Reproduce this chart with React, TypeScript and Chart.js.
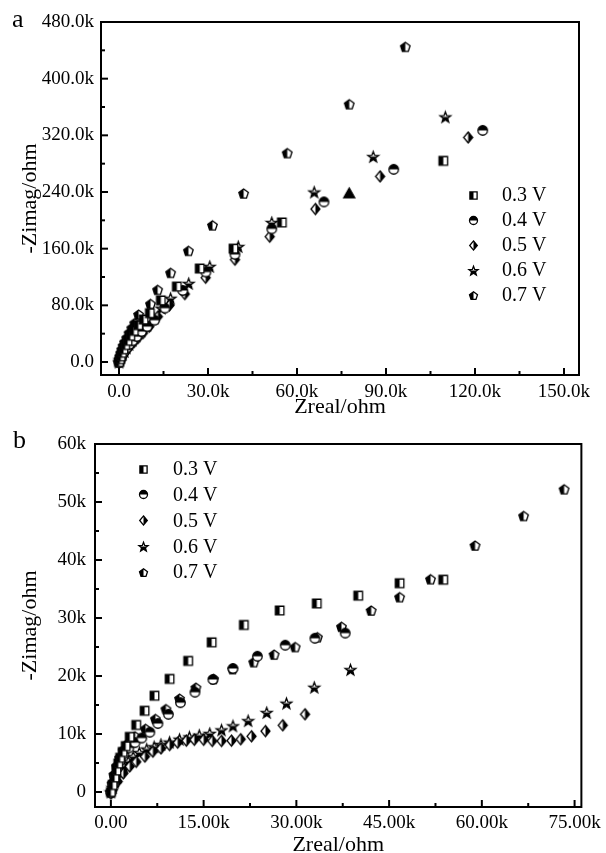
import React, { useEffect, useRef } from 'react';
import { Chart, registerables } from 'chart.js';

Chart.register(...registerables);

const FONT = "'Liberation Serif', 'Times New Roman', Times, serif";
const SERIES_LABELS = ['0.3 V', '0.4 V', '0.5 V', '0.6 V', '0.7 V'];

// ---------------- Panel a (values in kΩ) ----------------
const A_X_03 = [0, 0.3, 0.6, 1.0, 1.5, 2.1, 2.9, 3.8, 5.0, 6.5, 8.3, 10.4, 14.1, 19.5, 27.2, 38.6, 54.9, 109.3];
const A_Y_03 = [0, 4, 8, 13, 18, 24, 30, 37, 44, 52, 60, 69, 87, 106.5, 132, 160, 197, 284];
const A_X_04 = [0, 0.3, 0.7, 1.2, 1.8, 2.6, 3.5, 4.6, 6.0, 7.6, 9.5, 12.0, 15.5, 21.5, 29.3, 39.1, 51.5, 69.1, 92.6, 122.6];
const A_Y_04 = [0, 3, 7, 11, 15, 20, 25, 30, 36, 43, 50, 59, 76, 101, 127, 152, 188, 226, 272, 327];
const A_X_05 = [0, 0.4, 0.8, 1.3, 2.0, 2.8, 3.8, 5.0, 6.4, 8.1, 10.2, 13.1, 17.0, 22.2, 29.2, 39.1, 50.8, 66.2, 88.0, 117.7];
const A_Y_05 = [-1, 3, 6, 10, 14, 18, 23, 28, 34, 41, 50, 64, 80, 96, 119, 144.5, 177, 216, 262, 317];
const A_X_06 = [0, 0.3, 0.7, 1.2, 1.8, 2.5, 3.4, 4.5, 5.8, 7.4, 9.4, 11.8, 14.3, 17.4, 23.5, 30.6, 40.2, 51.5, 65.8, 85.7, 110.0];
const A_Y_06 = [0, 3, 7, 11, 15, 20, 25, 31, 37, 44, 52, 62, 76, 90, 111, 135, 163, 197, 240, 290, 346];
const A_X_07 = [0, 0.2, 0.4, 0.7, 1.0, 1.4, 1.9, 2.6, 3.4, 4.3, 5.3, 6.6, 10.6, 13.0, 17.4, 23.4, 31.5, 42.0, 56.7, 77.6, 96.5];
const A_Y_07 = [0, 4, 8, 13, 18, 23, 28, 34, 41, 48, 55, 67, 82, 102, 126, 157, 193, 238, 295, 364, 445];
const A_X_TRI = [77.6];
const A_Y_TRI = [238];

// ---------------- Panel b (values in kΩ) ----------------
const B_X_03 = [0, 0.3, 0.6, 0.9, 1.2, 1.5, 1.9, 2.4, 3.05, 4.1, 5.45, 7.05, 9.5, 12.5, 16.3, 21.5, 27.3, 33.3, 40.0, 46.7, 53.75];
const B_Y_03 = [0, 1.2, 2.5, 3.7, 4.9, 5.9, 6.9, 7.9, 9.5, 11.55, 14.0, 16.6, 19.5, 22.6, 25.8, 28.8, 31.3, 32.5, 33.85, 36.0, 36.6];
const B_X_04 = [0, 0.3, 0.6, 1.0, 1.5, 2.1, 2.9, 3.9, 5.0, 6.3, 7.6, 9.3, 11.25, 13.6, 16.5, 19.75, 23.7, 28.2, 33.0, 37.9];
const B_Y_04 = [0, 1.4, 2.8, 4.1, 5.4, 6.6, 7.6, 8.5, 9.3, 10.3, 11.8, 13.4, 15.4, 17.2, 19.4, 21.3, 23.4, 25.3, 26.5, 27.4];
const B_X_05 = [0, 0.3, 1.1, 2.0, 3.05, 4.1, 5.5, 6.8, 8.1, 9.5, 10.8, 12.2, 13.5, 15.0, 16.4, 17.9, 19.5, 21.0, 22.75, 25.0, 27.8, 31.4];
const B_Y_05 = [-0.3, 0.4, 1.8, 3.2, 4.4, 5.2, 6.1, 6.95, 7.5, 8.1, 8.5, 8.85, 9.0, 9.0, 8.8, 8.8, 8.85, 9.1, 9.6, 10.5, 11.5, 13.4];
const B_X_06 = [0, 0.3, 0.6, 1.0, 1.5, 2.1, 2.8, 3.6, 4.6, 5.8, 7.0, 8.1, 9.5, 11.1, 12.7, 14.3, 16.0, 17.9, 19.75, 22.2, 25.2, 28.4, 32.9, 38.75];
const B_Y_06 = [0, 0.8, 1.7, 2.6, 3.5, 4.4, 5.3, 6.1, 6.8, 7.4, 7.8, 8.2, 8.6, 9.1, 9.5, 9.8, 10.1, 10.7, 11.4, 12.3, 13.7, 15.3, 18.05, 21.1];
const B_X_07 = [0, 0.2, 0.5, 0.9, 1.4, 2.0, 2.8, 3.9, 5.6, 7.2, 8.9, 11.1, 13.75, 16.6, 19.7, 23.1, 26.4, 29.8, 33.4, 37.3, 42.1, 46.7, 51.7, 58.9, 66.75, 73.3];
const B_Y_07 = [0, 1.5, 3.0, 4.5, 5.9, 7.2, 8.4, 9.6, 10.9, 12.6, 14.3, 16.1, 18.0, 19.5, 21.2, 22.4, 23.7, 25.0, 26.7, 28.5, 31.3, 33.6, 36.7, 42.5, 47.6, 52.2];

type Kind = 'square' | 'circle' | 'diamond' | 'star' | 'pentagon' | 'triangle';
type Half = 'left' | 'right' | 'top' | 'bottom' | 'full';

const MARKERS: { kind: Kind; half: Half }[] = [
  { kind: 'square', half: 'left' },
  { kind: 'circle', half: 'top' },
  { kind: 'diamond', half: 'right' },
  { kind: 'star', half: 'bottom' },
  { kind: 'pentagon', half: 'left' },
];

function markerPath(kind: Kind, cx: number, cy: number, s: number): Path2D {
  const p = new Path2D();
  const r = s / 2;
  if (kind === 'square') {
    p.rect(cx - r * 0.9, cy - r * 0.9, r * 1.8, r * 1.8);
  } else if (kind === 'circle') {
    p.arc(cx, cy, r, 0, Math.PI * 2);
  } else if (kind === 'diamond') {
    p.moveTo(cx, cy - r * 1.15);
    p.lineTo(cx + r * 0.95, cy);
    p.lineTo(cx, cy + r * 1.15);
    p.lineTo(cx - r * 0.95, cy);
    p.closePath();
  } else if (kind === 'star') {
    for (let i = 0; i < 10; i++) {
      const ang = -Math.PI / 2 + (i * Math.PI) / 5;
      const rr = i % 2 === 0 ? r * 1.2 : r * 0.5;
      const x = cx + rr * Math.cos(ang);
      const y = cy + 0.6 + rr * Math.sin(ang);
      if (i === 0) p.moveTo(x, y); else p.lineTo(x, y);
    }
    p.closePath();
  } else if (kind === 'pentagon') {
    for (let i = 0; i < 5; i++) {
      const ang = -Math.PI / 2 + (i * 2 * Math.PI) / 5;
      const x = cx + r * 1.05 * Math.cos(ang);
      const y = cy + 0.5 + r * 1.05 * Math.sin(ang);
      if (i === 0) p.moveTo(x, y); else p.lineTo(x, y);
    }
    p.closePath();
  } else {
    p.moveTo(cx, cy - r * 1.1);
    p.lineTo(cx + r * 1.1, cy + r * 0.85);
    p.lineTo(cx - r * 1.1, cy + r * 0.85);
    p.closePath();
  }
  return p;
}

function makeMarker(kind: Kind, half: Half, s: number): HTMLCanvasElement {
  const size = Math.ceil(s + 5);
  const c = document.createElement('canvas');
  c.width = size;
  c.height = size;
  const ctx = c.getContext('2d')!;
  const cx = size / 2;
  const cy = size / 2;
  const path = markerPath(kind, cx, cy, s);
  ctx.fillStyle = '#fff';
  ctx.fill(path);
  ctx.save();
  ctx.clip(path);
  ctx.fillStyle = '#000';
  if (half === 'full') ctx.fillRect(0, 0, size, size);
  else if (half === 'left') ctx.fillRect(0, 0, cx, size);
  else if (half === 'right') ctx.fillRect(cx, 0, size, size);
  else if (half === 'top') ctx.fillRect(0, 0, size, cy);
  else ctx.fillRect(0, cy, size, size);
  ctx.restore();
  ctx.strokeStyle = '#000';
  ctx.lineWidth = 1.3;
  ctx.stroke(path);
  return c;
}

interface Panel {
  letter: string;
  letterPos: [number, number];
  xs: number[][];
  ys: number[][];
  extraX?: number[];
  extraY?: number[];
  xMin: number; xMax: number; xStep: number;
  yMin: number; yMax: number; yStep: number;
  xFmt: (v: number) => string;
  yFmt: (v: number) => string;
  padTop: number; padRight: number;
  yAxisWidth: number; xAxisHeight: number;
  yTickPad: number; xTickPad: number;
  xTitlePadBottom: number;
  legendX: number; legendY: number; legendDy: number; legendTextX: number;
}

const PANEL_A: Panel = {
  letter: 'a',
  letterPos: [12, 27],
  xs: [A_X_03, A_X_04, A_X_05, A_X_06, A_X_07],
  ys: [A_Y_03, A_Y_04, A_Y_05, A_Y_06, A_Y_07],
  extraX: A_X_TRI,
  extraY: A_Y_TRI,
  xMin: -6.07, xMax: 155.06, xStep: 30,
  yMin: -18.35, yMax: 480, yStep: 80,
  xFmt: (v) => (v === 0 ? '0.0' : v.toFixed(1) + 'k'),
  yFmt: (v) => (v === 0 ? '0.0' : v.toFixed(1) + 'k'),
  padTop: 22, padRight: 27,
  yAxisWidth: 101, xAxisHeight: 45,
  yTickPad: 7, xTickPad: 6,
  xTitlePadBottom: 0,
  legendX: 473, legendY: 195, legendDy: 25, legendTextX: 502,
};

const PANEL_B: Panel = {
  letter: 'b',
  letterPos: [13, 28],
  xs: [B_X_03, B_X_04, B_X_05, B_X_06, B_X_07],
  ys: [B_Y_03, B_Y_04, B_Y_05, B_Y_06, B_Y_07],
  xMin: -2.57, xMax: 76.1, xStep: 15,
  yMin: -2.59, yMax: 60, yStep: 10,
  xFmt: (v) => (v === 0 ? '0.00' : v.toFixed(2) + 'k'),
  yFmt: (v) => (v === 0 ? '0' : Math.round(v) + 'k'),
  padTop: 24, padRight: 21,
  yAxisWidth: 95, xAxisHeight: 53,
  yTickPad: 9, xTickPad: 5,
  xTitlePadBottom: 2,
  legendX: 143, legendY: 49, legendDy: 25.8, legendTextX: 173,
};

function buildChart(canvas: HTMLCanvasElement, p: Panel): Chart {
  const dataMarkers = MARKERS.map((m) => makeMarker(m.kind, m.half, 9.5));
  const legendMarkers = MARKERS.map((m) => makeMarker(m.kind, m.half, 8));
  const triMarker = makeMarker('triangle', 'full', 10);

  const datasets: any[] = SERIES_LABELS.map((label, i) => ({
    label,
    data: p.xs[i].map((x, j) => ({ x, y: p.ys[i][j] })),
    pointStyle: dataMarkers[i],
    pointRadius: 5,
    showLine: false,
  }));
  if (p.extraX && p.extraY) {
    datasets.push({
      label: '',
      data: p.extraX.map((x, j) => ({ x, y: p.extraY![j] })),
      pointStyle: triMarker,
      pointRadius: 5,
      showLine: false,
    });
  }

  const framePlugin = {
    id: 'frame_' + p.letter,
    afterDraw(chart: any) {
      const ctx: CanvasRenderingContext2D = chart.ctx;
      const { left, right, top, bottom } = chart.chartArea;
      ctx.save();
      ctx.strokeStyle = '#000';
      ctx.lineWidth = 2;
      ctx.strokeRect(left, top, right - left, bottom - top);
      const drawTicks = (scale: any, horizontal: boolean) => {
        const vals: number[] = scale.ticks.map((t: any) => t.value);
        const step = vals[1] - vals[0];
        const minors: number[] = [];
        vals.forEach((v) => {
          const m = v + step / 2;
          if (m < scale.max) minors.push(m);
        });
        if (vals[0] - step / 2 > scale.min) minors.push(vals[0] - step / 2);
        const line = (v: number, len: number) => {
          const px = scale.getPixelForValue(v);
          ctx.beginPath();
          if (horizontal) {
            ctx.moveTo(px, bottom);
            ctx.lineTo(px, bottom - len);
          } else {
            ctx.moveTo(left, px);
            ctx.lineTo(left + len, px);
          }
          ctx.stroke();
        };
        vals.forEach((v) => line(v, 7));
        minors.forEach((v) => line(v, 4));
      };
      drawTicks(chart.scales.x, true);
      drawTicks(chart.scales.y, false);

      // legend
      ctx.fillStyle = '#000';
      ctx.font = `20px ${FONT}`;
      ctx.textBaseline = 'middle';
      ctx.textAlign = 'left';
      SERIES_LABELS.forEach((label, i) => {
        const y = p.legendY + i * p.legendDy;
        const m = legendMarkers[i];
        ctx.drawImage(m, Math.round(p.legendX - m.width / 2), Math.round(y - m.height / 2));
        ctx.fillText(label, p.legendTextX, y + 1);
      });

      // panel letter
      ctx.font = `26px ${FONT}`;
      ctx.textBaseline = 'alphabetic';
      ctx.fillText(p.letter, p.letterPos[0], p.letterPos[1]);
      ctx.restore();
    },
  };

  const tickFont = { family: FONT, size: 19 };
  const titleFont = { family: FONT, size: 22 };

  return new Chart(canvas, {
    type: 'scatter',
    data: { datasets },
    options: {
      responsive: false,
      animation: false,
      devicePixelRatio: 1,
      layout: { padding: { top: p.padTop, right: p.padRight, left: 0, bottom: 0 } },
      plugins: { legend: { display: false }, tooltip: { enabled: false } },
      scales: {
        x: {
          type: 'linear',
          min: p.xMin,
          max: p.xMax,
          ticks: {
            stepSize: p.xStep,
            includeBounds: false,
            autoSkip: false,
            maxRotation: 0,
            padding: p.xTickPad,
            color: '#000',
            font: tickFont,
            callback: (v: any) => p.xFmt(Number(v)),
          },
          grid: { display: false, drawTicks: false },
          border: { display: false },
          title: {
            display: true,
            text: 'Zreal/ohm',
            color: '#000',
            font: titleFont,
            padding: { top: 0, bottom: p.xTitlePadBottom },
          },
          afterFit: (s: any) => {
            s.height = p.xAxisHeight;
          },
        },
        y: {
          type: 'linear',
          min: p.yMin,
          max: p.yMax,
          ticks: {
            stepSize: p.yStep,
            includeBounds: false,
            autoSkip: false,
            padding: p.yTickPad,
            color: '#000',
            font: tickFont,
            callback: (v: any) => p.yFmt(Number(v)),
          },
          grid: { display: false, drawTicks: false },
          border: { display: false },
          title: {
            display: true,
            text: '-Zimag/ohm',
            color: '#000',
            font: titleFont,
            padding: { top: 17, bottom: 0 },
          },
          afterFit: (s: any) => {
            s.width = p.yAxisWidth;
          },
        },
      },
    } as any,
    plugins: [framePlugin as any],
  });
}

export default function App() {
  const refA = useRef<HTMLCanvasElement>(null);
  const refB = useRef<HTMLCanvasElement>(null);

  useEffect(() => {
    const charts: Chart[] = [];
    if (refA.current) charts.push(buildChart(refA.current, PANEL_A));
    if (refB.current) charts.push(buildChart(refB.current, PANEL_B));
    return () => charts.forEach((c) => c.destroy());
  }, []);

  return (
    <div
      style={{
        position: 'absolute',
        left: 0,
        top: 0,
        width: 606,
        height: 853,
        overflow: 'hidden',
        background: '#fff',
      }}
    >
      <canvas ref={refA} width={606} height={420} style={{ position: 'absolute', left: 0, top: 0, display: 'block' }} />
      <canvas ref={refB} width={606} height={440} style={{ position: 'absolute', left: 0, top: 420, display: 'block' }} />
    </div>
  );
}
